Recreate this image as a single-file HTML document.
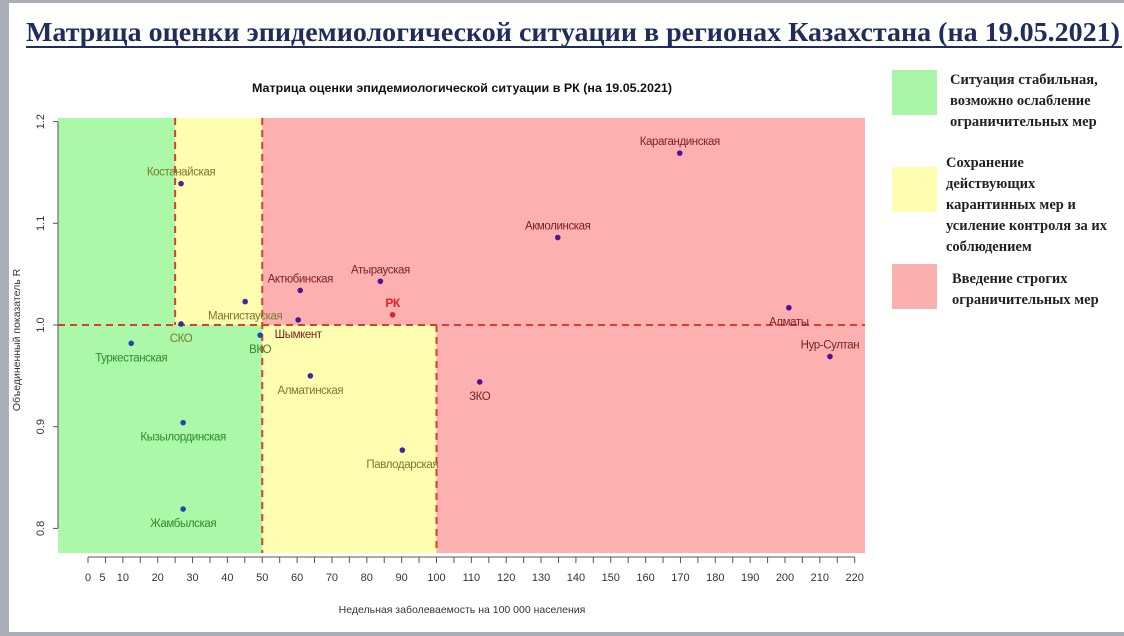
<!DOCTYPE html>
<html><head><meta charset="utf-8"><style>
body{margin:0;background:#fff;}
svg{display:block;font-family:"Liberation Sans",sans-serif;}
</style></head><body>
<svg width="1124" height="636" viewBox="0 0 1124 636">
<rect x="0" y="0" width="1124" height="636" fill="#fff"/>
<rect x="0" y="0" width="9" height="636" fill="#a9aeb9"/>
<rect x="0" y="0" width="1124" height="3" fill="#a9aeb9"/>
<rect x="0" y="632" width="1124" height="4" fill="#a9aeb9"/>
<text x="26" y="41" font-family="Liberation Serif,serif" font-weight="bold" font-size="27" fill="#1f2d5c" textLength="1094" lengthAdjust="spacingAndGlyphs">Матрица оценки эпидемиологической ситуации в регионах Казахстана (на 19.05.2021)</text>
<rect x="26" y="46" width="1096" height="2" fill="#1f2d5c"/>
<text x="462" y="92" text-anchor="middle" font-weight="bold" font-size="12" fill="#111" textLength="420" lengthAdjust="spacingAndGlyphs">Матрица оценки эпидемиологической ситуации в РК (на 19.05.2021)</text>
<g id="plot"></g>
<g font-family="Liberation Serif,serif" font-weight="bold" font-size="14.5" fill="#222">
<rect x="892" y="70" width="45" height="45" fill="#a8f5a8"/>
<text x="950" y="84">Ситуация стабильная,</text>
<text x="950" y="105">возможно ослабление</text>
<text x="950" y="126">ограничительных мер</text>
<rect x="892" y="167" width="45" height="45" fill="#fefdb0"/>
<text x="946" y="167">Сохранение</text>
<text x="946" y="188">действующих</text>
<text x="946" y="209">карантинных мер и</text>
<text x="946" y="230">усиление контроля за их</text>
<text x="946" y="251">соблюдением</text>
<rect x="892" y="264" width="45" height="45" fill="#fbb0b0"/>
<text x="952" y="283">Введение строгих</text>
<text x="952" y="304">ограничительных мер</text>
</g>
</svg>
<script>
const regions=["Костанайская","СКО","Туркестанская","Кызылординская","Жамбылская","Мангистауская","ВКО","Актюбинская","Шымкент","Алматинская","Атырауская","РК","Павлодарская","ЗКО","Акмолинская","Карагандинская","Алматы","Нур-Султан"];
const incidence=[26.7,26.7,12.4,27.3,27.3,45.1,49.4,60.9,60.3,63.8,83.9,87.4,90.2,112.4,134.8,169.8,201.1,212.9];
const rValues=[1.139,1.001,0.982,0.904,0.819,1.023,0.990,1.034,1.005,0.950,1.043,1.010,0.877,0.944,1.086,1.169,1.017,0.969];
const labelAbove=[1,0,0,0,0,0,0,1,0,0,1,1,0,0,1,1,0,1];
const xTicks=[0,5,10,20,30,40,50,60,70,80,90,100,110,120,130,140,150,160,170,180,190,200,210,220];
const yTicks=[0.8,0.9,1.0,1.1,1.2];
const NS="http://www.w3.org/2000/svg";
const X0=88,XS=3.485,Y1=325,YS=1017;
const sx=v=>X0+v*XS, sy=v=>Y1-(v-1)*YS;
const L=58,R=865,T=118,B=553;
const g=document.getElementById('plot');
function el(t,a,p){const e=document.createElementNS(NS,t);for(const k in a)e.setAttribute(k,a[k]);(p||g).appendChild(e);return e;}
function rect(x1,y1,x2,y2,f,n){const e=el('rect',{x:x1,y:y1,width:x2-x1,height:y2-y1,fill:f});

}
rect(L,T,sx(25),sy(1),'#abf8a8','zone-green-top');
rect(L,sy(1),sx(50),B,'#abf8a8','zone-green-bottom');
rect(sx(25),T,sx(50),sy(1),'#fefdb0','zone-yellow-top');
rect(sx(50),sy(1),sx(100),B,'#fefdb0','zone-yellow-bottom');
rect(sx(50),T,R,sy(1),'#fcb0b0','zone-red-top');
rect(sx(100),sy(1),R,B,'#fcb0b0','zone-red-bottom');
function dash(x1,y1,x2,y2,n){const e=el('line',{x1,y1,x2,y2,stroke:'#d8402a','stroke-width':2,'stroke-dasharray':'7,5'});

}
dash(L,sy(1),R,sy(1),'threshold-r-1');
dash(sx(25),T,sx(25),sy(1),'threshold-x-25');
dash(sx(50),T,sx(50),B,'threshold-x-50');
dash(sx(100),sy(1),sx(100),B,'threshold-x-100');
el('line',{x1:L,y1:sy(1.2),x2:L,y2:sy(0.8),stroke:'#555'});
el('line',{x1:sx(0),y1:557,x2:sx(220),y2:557,stroke:'#555'});
for(let v=0;v<=220;v+=5){el('line',{x1:sx(v),y1:557,x2:sx(v),y2:563,stroke:'#555'});}
xTicks.forEach(v=>{const t=el('text',{x:sx(v)+(v===5?-3:0),y:581,'text-anchor':'middle','font-size':11,fill:'#333'});t.textContent=v;

});
yTicks.forEach(v=>{el('line',{x1:L,y1:sy(v),x2:L-5,y2:sy(v),stroke:'#555'});
const t=el('text',{x:0,y:0,'text-anchor':'middle','font-size':11,fill:'#333',transform:`translate(44,${sy(v)}) rotate(-90)`});t.textContent=v.toFixed(1);

});
let t=el('text',{x:462,y:613,'text-anchor':'middle','font-size':10.5,fill:'#333'});t.textContent='Недельная заболеваемость на 100 000 населения';


t=el('text',{x:0,y:0,'text-anchor':'middle','font-size':10.5,fill:'#333',transform:'translate(20,340) rotate(-90)'});t.textContent='Объединенный показатель R';


function zone(x,y){if(x<25||(x<50&&y<1))return 'g';if((x<50&&y>=1)||(x<100&&y<1))return 'y';return 'r';}
const lc={g:'#2f8a2f',y:'#7a7a2c',r:'#7a1f24'};
const pc={g:'#1d4aa8',y:'#3a2aa0',r:'#50109a'};
regions.forEach((n,i)=>{const x=incidence[i],y=rValues[i],z=zone(x,y),isRK=n==='РК';
const c=el('circle',{cx:sx(x),cy:sy(y),r:2.8,fill:isRK?'#e0202a':pc[z]});


const tx=el('text',{x:sx(x),y:sy(y)+(labelAbove[i]?-8:18),'text-anchor':'middle','font-size':isRK?12:11.5,fill:isRK?'#e0202a':lc[z],'letter-spacing':'-0.4','font-weight':isRK?'bold':'normal'});
tx.textContent=n;

});
</script>
</body></html>
